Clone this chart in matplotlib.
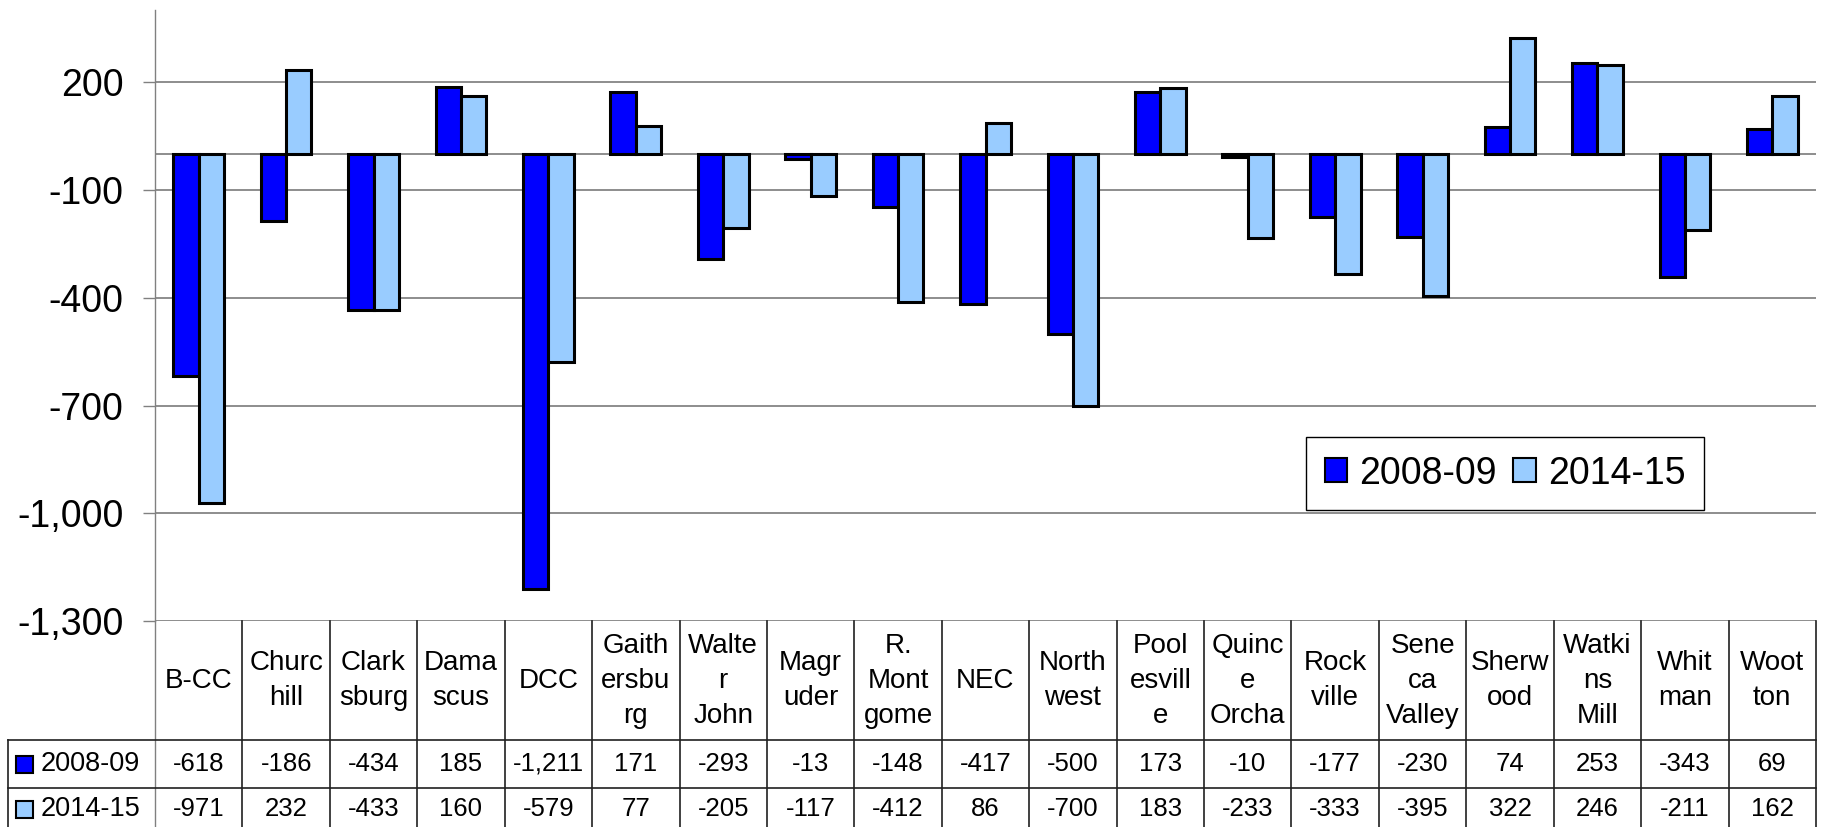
import matplotlib
matplotlib.use("Agg")
import matplotlib.pyplot as plt
from matplotlib.patches import Patch, Rectangle
import numpy as np

plt.rcParams['font.family'] = ['Liberation Sans', 'DejaVu Sans']

# ---------------- data ----------------
categories = ["B-CC", "Churc\nhill", "Clark\nsburg", "Dama\nscus", "DCC",
              "Gaith\nersbu\nrg", "Walte\nr\nJohn", "Magr\nuder", "R.\nMont\ngome",
              "NEC", "North\nwest", "Pool\nesvill\ne", "Quinc\ne\nOrcha", "Rock\nville",
              "Sene\nca\nValley", "Sherw\nood", "Watki\nns\nMill", "Whit\nman", "Woot\nton"]
series_names = ["2008-09", "2014-15"]
values_0809 = [-618, -186, -434, 185, -1211, 171, -293, -13, -148, -417,
               -500, 173, -10, -177, -230, 74, 253, -343, 69]
values_1415 = [-971, 232, -433, 160, -579, 77, -205, -117, -412, 86,
               -700, 183, -233, -333, -395, 322, 246, -211, 162]
yticks = [200, -100, -400, -700, -1000, -1300]

colors = ["#0000FF", "#99CCFF"]

# ---------------- layout (pixels) ----------------
W, H = 1825, 827
AX_L, AX_R, AX_T, AX_B = 155, 1816, 10, 621.3
TAB_L = 8
HDR_B, ROW_B, TAB_B = 740, 788, 836

fig = plt.figure(figsize=(W / 100, H / 100), dpi=100)
ax = fig.add_axes([AX_L / W, (H - AX_B) / H, (AX_R - AX_L) / W, (AX_B - AX_T) / H])

n = len(categories)
x = np.arange(n)
bw = 0.29
ax.bar(x - bw / 2, values_0809, width=bw, color=colors[0], edgecolor="black",
       linewidth=2.2, zorder=3)
ax.bar(x + bw / 2, values_1415, width=bw, color=colors[1], edgecolor="black",
       linewidth=2.2, zorder=3)

ax.set_xlim(-0.5, n - 0.5)
ax.set_ylim(-1300, 400)
ax.set_yticks(yticks)
ax.set_yticklabels([f"{t:,}" for t in yticks], fontsize=27)
ax.tick_params(axis="y", length=8.6, width=1, color="#808080", pad=14)
ax.set_xticks([])
ax.yaxis.grid(True, color="#7a7a7a", linewidth=1.2, zorder=0)
ax.axhline(0, color="#7a7a7a", linewidth=1.2, zorder=1)
for s in ["top", "right", "bottom"]:
    ax.spines[s].set_visible(False)
ax.spines["left"].set_color("#808080")
ax.spines["left"].set_linewidth(1)

# legend
handles = [Patch(facecolor=c, edgecolor="black", linewidth=1.5) for c in colors]
leg = fig.legend(handles, series_names, loc="center",
                 bbox_to_anchor=((1312 + 1698) / 2 / W, 1 - (439 + 508) / 2 / H),
                 ncol=2, fontsize=27, handlelength=0.6, handleheight=0.6,
                 handletextpad=0.32, columnspacing=0.45, borderpad=0.5,
                 fancybox=False, framealpha=1, frameon=True)
leg.get_frame().set_edgecolor("black")
leg.get_frame().set_linewidth(1)

# ---------------- data table (pixel overlay) ----------------
tab = fig.add_axes([0, 0, 1, 1])
tab.set_xlim(0, W)
tab.set_ylim(H, 0)
tab.axis("off")

colw = (AX_R - AX_L) / n
lc = "#202020"
lw = 1.2
# vertical lines
tab.plot([AX_L, AX_L], [AX_B, TAB_B], color="#808080", lw=1)
for i in range(1, n + 1):
    xx = AX_L + i * colw
    tab.plot([xx, xx], [AX_B, TAB_B], color=lc, lw=lw)
tab.plot([TAB_L, TAB_L], [HDR_B, TAB_B], color=lc, lw=lw)
# horizontal lines
tab.plot([TAB_L, AX_R], [HDR_B, HDR_B], color=lc, lw=lw)
tab.plot([TAB_L, AX_R], [ROW_B, ROW_B], color=lc, lw=lw)

hdr_c = (AX_B + HDR_B) / 2
row_c = [(HDR_B + ROW_B) / 2, (ROW_B + TAB_B) / 2 - 3]
for i, cat in enumerate(categories):
    cx = AX_L + (i + 0.5) * colw
    tab.text(cx, hdr_c, cat, ha="center", va="center", fontsize=20,
             linespacing=1.45)
    tab.text(cx, row_c[0], f"{values_0809[i]:,}", ha="center", va="center",
             fontsize=18.5)
    tab.text(cx, row_c[1], f"{values_1415[i]:,}", ha="center", va="center",
             fontsize=18.5)

for r, (name, c) in enumerate(zip(series_names, colors)):
    yc = row_c[r]
    tab.add_patch(Rectangle((16, yc - 8.5), 17, 17, facecolor=c, edgecolor="black",
                            linewidth=1.5))
    tab.text(41, yc, name, ha="left", va="center", fontsize=19.5)

fig.savefig("out.png", dpi=100)
